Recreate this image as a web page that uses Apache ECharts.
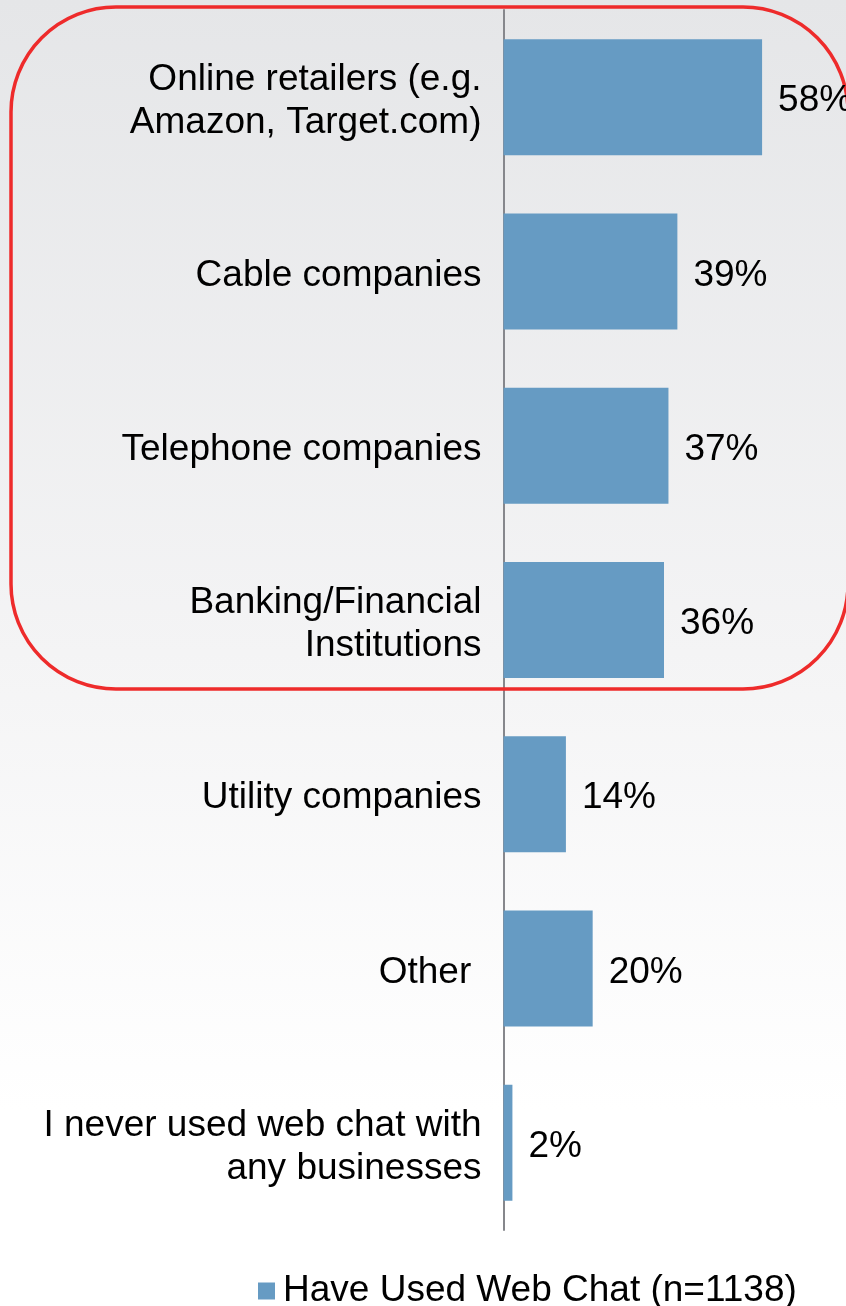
<!DOCTYPE html>
<html>
<head>
<meta charset="utf-8">
<script src="https://cdn.jsdelivr.net/npm/echarts@6/dist/echarts.min.js"></script>
<style>
  html, body { margin: 0; padding: 0; }
  #chart { width: 846px; height: 1306px; }
</style>
</head>
<body>
<div id="chart"></div>
<script>
// Businesses where respondents have used web chat
const categories = [
  'Online retailers (e.g.\nAmazon, Target.com)',
  'Cable companies',
  'Telephone companies',
  'Banking/Financial\nInstitutions',
  'Utility companies',
  'Other ',
  'I never used web chat with\nany businesses'
];
const usedWebChat = [58, 39, 37, 36, 14, 20, 2];
const seriesName = 'Have Used Web Chat (n=1138)';

const FONT = '"Liberation Sans", Arial, sans-serif';
const BAR = '#669bc3';

// every line carries a small top pad so the label block sits a touch lower
const labelText = v => v.split('\n').map(line => '{n|' + line + '}').join('\n');

const chart = echarts.init(document.getElementById('chart'), null, { renderer: 'canvas' });

chart.setOption({
  animation: false,
  backgroundColor: {
    type: 'linear', x: 0, y: 0, x2: 0, y2: 1,
    colorStops: [
      { offset: 0, color: '#e5e6e8' },
      { offset: 0.5, color: '#f4f4f5' },
      { offset: 0.85, color: '#ffffff' },
      { offset: 1, color: '#ffffff' }
    ]
  },
  textStyle: { fontFamily: FONT },
  grid: { left: 503.5, right: 75, top: 10, bottom: 76, containLabel: false },
  xAxis: {
    type: 'value',
    min: 0,
    max: 60,
    show: false
  },
  yAxis: {
    type: 'category',
    inverse: true,
    data: categories,
    axisLine: { show: true, lineStyle: { color: '#86878c', width: 2 } },
    axisTick: { show: false },
    splitLine: { show: false },
    axisLabel: {
      margin: 22,
      color: '#000000',
      fontFamily: FONT,
      fontSize: 37,
      lineHeight: 43,
      align: 'right',
      formatter: labelText,
      rich: {
        n: { color: '#000000', fontFamily: FONT, fontSize: 37, lineHeight: 43, padding: [8, 0, 0, 0] }
      }
    }
  },
  legend: {
    data: [seriesName],
    left: 253,
    top: 1266,
    icon: 'rect',
    itemWidth: 17,
    itemHeight: 17,
    textStyle: { color: '#000000', fontFamily: FONT, fontSize: 37, lineHeight: 40, padding: [0, 0, 0, 3] }
  },
  graphic: [{
    type: 'rect',
    z: 1,
    shape: { x: 11, y: 7, width: 837, height: 682, r: 105 },
    style: { fill: 'none', stroke: '#ee2b2b', lineWidth: 3.5 }
  }],
  series: [{
    name: seriesName,
    type: 'bar',
    data: usedWebChat,
    barWidth: 116,
    itemStyle: { color: BAR },
    label: {
      show: true,
      position: 'right',
      distance: 16,
      offset: [0, 4],
      color: '#000000',
      fontFamily: FONT,
      fontSize: 37,
      formatter: p => p.value + '%'
    }
  }]
});
</script>
</body>
</html>
